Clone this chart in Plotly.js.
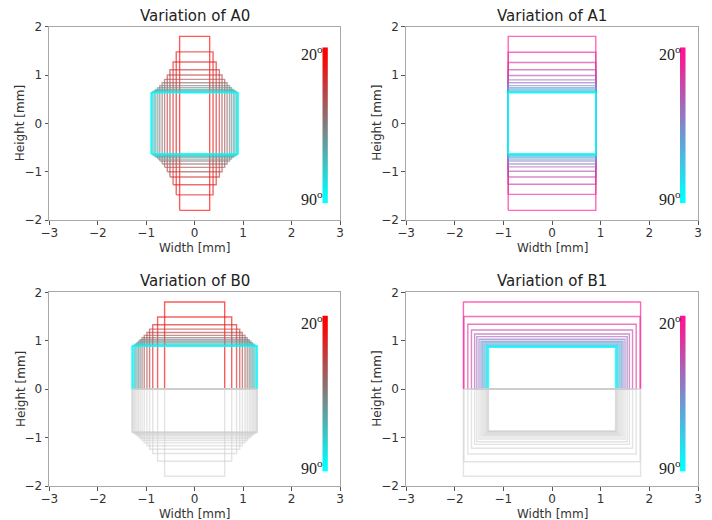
<!DOCTYPE html>
<html>
<head>
<meta charset="utf-8">
<script src="https://cdn.plot.ly/plotly-3.0.1.min.js"></script>
<style>html,body{margin:0;padding:0;background:#fff;}#chart{width:712px;height:520px;}</style>
</head>
<body>
<div id="chart"></div>
<script>
// ---------- data ----------
const angles = [20, 25, 30, 35, 40, 45, 50, 55, 60, 65, 70, 75, 80, 85, 90];

const panelTitles = ['Variation of A0', 'Variation of A1', 'Variation of B0', 'Variation of B1'];
const xTitle = 'Width [mm]';
const yTitle = 'Height [mm]';
const xTicks = [-3, -2, -1, 0, 1, 2, 3];
const yTicks = [-2, -1, 0, 1, 2];
const angleLabels = ['20', '90'];

// A0: half-width and half-height of each centred rectangle [mm]
const a0HalfWidth  = [0.31, 0.38, 0.445, 0.51, 0.565, 0.62, 0.67, 0.72, 0.76, 0.80, 0.83, 0.86, 0.88, 0.895, 0.90];
const a0HalfHeight = [1.80, 1.48, 1.27, 1.11, 1.00, 0.91, 0.84, 0.78, 0.74, 0.70, 0.68, 0.66, 0.645, 0.635, 0.63];

// A1
const a1HalfWidth  = [0.90, 0.90, 0.90, 0.90, 0.90, 0.90, 0.90, 0.90, 0.90, 0.90, 0.90, 0.90, 0.90, 0.90, 0.90];
const a1HalfHeight = [1.80, 1.47, 1.26, 1.11, 0.99, 0.90, 0.84, 0.78, 0.74, 0.71, 0.68, 0.66, 0.645, 0.635, 0.63];

// B0: half-width and height above 0 (mirrored below in grey)
const b0HalfWidth = [0.62, 0.765, 0.865, 0.93, 0.985, 1.04, 1.085, 1.125, 1.16, 1.19, 1.22, 1.245, 1.27, 1.285, 1.295];
const b0Height    = [1.80, 1.49, 1.33, 1.24, 1.17, 1.11, 1.06, 1.02, 0.99, 0.96, 0.935, 0.915, 0.90, 0.89, 0.885];

// B1
const b1HalfWidth = [1.82, 1.81, 1.73, 1.655, 1.59, 1.545, 1.50, 1.46, 1.43, 1.40, 1.375, 1.35, 1.33, 1.315, 1.305];
const b1Height    = [1.80, 1.50, 1.34, 1.22, 1.14, 1.085, 1.03, 0.99, 0.96, 0.935, 0.915, 0.895, 0.88, 0.87, 0.865];

// ---------- styles ----------
const RED = [255, 0, 0], PINK = [255, 20, 147], CYAN = [0, 255, 255];
const GREY = 'rgba(205,205,205,0.55)';
const LW = 1.4, OP = 0.65;

function mix(c1, c2, t) {
  const c = c1.map((v, i) => Math.round(v + (c2[i] - v) * t));
  return 'rgb(' + c.join(',') + ')';
}

const traces = [];

function centred(hw, hh, c20, xa, ya) {
  hw.forEach((w, i) => {
    const h = hh[i];
    traces.push({
      type: 'scatter', mode: 'lines', xaxis: xa, yaxis: ya,
      x: [-w, w, w, -w, -w], y: [-h, -h, h, h, -h],
      line: {color: mix(c20, CYAN, i / (angles.length - 1)), width: LW},
      opacity: OP, hoverinfo: 'skip', showlegend: false
    });
  });
}

function halves(hw, hh, c20, xa, ya) {
  hw.forEach((w, i) => {
    const h = hh[i];
    traces.push({
      type: 'scatter', mode: 'lines', xaxis: xa, yaxis: ya,
      x: [-w, -w, w, w], y: [0, h, h, 0],
      line: {color: mix(c20, CYAN, i / (angles.length - 1)), width: LW},
      opacity: OP, hoverinfo: 'skip', showlegend: false
    });
  });
  hw.forEach((w, i) => {
    const h = hh[i];
    traces.push({
      type: 'scatter', mode: 'lines', xaxis: xa, yaxis: ya,
      x: [-w, w, w, -w, -w], y: [0, 0, -h, -h, 0],
      line: {color: GREY, width: LW},
      hoverinfo: 'skip', showlegend: false
    });
  });
}

centred(a0HalfWidth, a0HalfHeight, RED, 'x', 'y');
centred(a1HalfWidth, a1HalfHeight, PINK, 'x2', 'y2');
halves(b0HalfWidth, b0Height, RED, 'x3', 'y3');
halves(b1HalfWidth, b1Height, PINK, 'x4', 'y4');

// colour bars as heatmaps on small axes
const cbCols = [RED, PINK, RED, PINK];
cbCols.forEach((c20, k) => {
  traces.push({
    type: 'heatmap', xaxis: 'x' + (k + 5), yaxis: 'y' + (k + 5),
    z: angles.map(a => [a]), y: angles, x: [0],
    zmin: angles[0], zmax: angles[angles.length - 1],
    colorscale: [[0, mix(c20, c20, 0)], [1, mix(CYAN, CYAN, 0)]],
    zsmooth: 'best', showscale: false, hoverinfo: 'skip'
  });
});

// ---------- layout ----------
const W = 712, H = 520;
function px2x(a, b) { return [a / W, b / W]; }
function px2y(top, bot) { return [1 - bot / H, 1 - top / H]; }

const colX = [px2x(49.3, 340), px2x(406, 698)];
const rowY = [px2y(26.7, 220), px2y(292.3, 486)];
const cbX = [px2x(322.3, 327.8), px2x(680, 685.5)];
const cbY = [px2y(47.3, 203.3), px2y(315.5, 471.8)];

const layout = {
  width: W, height: H,
  margin: {l: 0, r: 0, t: 0, b: 0},
  paper_bgcolor: '#ffffff', plot_bgcolor: 'rgba(0,0,0,0)',
  font: {family: 'DejaVu Sans, sans-serif', color: '#333'},
  showlegend: false,
  annotations: []
};

for (let k = 0; k < 4; k++) {
  const col = k % 2, row = Math.floor(k / 2);
  const xs = k === 0 ? '' : String(k + 1);
  layout['xaxis' + xs] = {
    domain: colX[col], anchor: 'y' + xs, range: [-3, 3],
    tickmode: 'array', tickvals: xTicks,
    ticks: 'outside', ticklen: 3.5, tickwidth: 1, tickcolor: '#555',
    ticklabelstandoff: -2,
    showline: true, mirror: true, linecolor: '#a8a8a8', linewidth: 1.2,
    showgrid: false, zeroline: false,
    tickfont: {size: 12, color: '#333'}
  };
  layout['yaxis' + xs] = {
    domain: rowY[row], anchor: 'x' + xs, range: [-2, 2],
    tickmode: 'array', tickvals: yTicks,
    ticks: 'outside', ticklen: 3.5, tickwidth: 1, tickcolor: '#555',
    showline: true, mirror: true, linecolor: '#a8a8a8', linewidth: 1.2,
    showgrid: false, zeroline: false,
    tickfont: {size: 12, color: '#333'}
  };
  const n = k + 5;
  layout['xaxis' + n] = {domain: cbX[col], anchor: 'y' + n, visible: false, fixedrange: true};
  layout['yaxis' + n] = {domain: cbY[row], anchor: 'x' + n, visible: false, autorange: 'reversed', fixedrange: true};

  // panel title
  layout.annotations.push({
    xref: 'x' + xs + ' domain', yref: 'y' + xs + ' domain', x: 0.5, y: 1,
    xanchor: 'center', yanchor: 'bottom', yshift: 0, showarrow: false,
    text: panelTitles[k], font: {size: 15, color: '#222'}
  });
  // axis titles
  layout.annotations.push({
    xref: 'x' + xs + ' domain', yref: 'y' + xs + ' domain', x: 0.5, y: 0,
    xanchor: 'center', yanchor: 'middle', yshift: -27.5, showarrow: false,
    text: xTitle, font: {size: 12, color: '#333'}
  });
  layout.annotations.push({
    xref: 'x' + xs + ' domain', yref: 'y' + xs + ' domain', x: 0, y: 0.5,
    xanchor: 'center', yanchor: 'middle', xshift: -28.5, textangle: -90, showarrow: false,
    text: yTitle, font: {size: 12, color: '#333'}
  });
  // colour-bar end labels
  layout.annotations.push({
    xref: 'x' + n + ' domain', yref: 'y' + n + ' domain', x: 0, y: 1,
    xanchor: 'right', yanchor: 'top', xshift: 3, yshift: 6, showarrow: false,
    text: angleLabels[0] + '<sup>o</sup>', font: {family: 'Liberation Serif, serif', size: 16, color: '#222'}
  });
  layout.annotations.push({
    xref: 'x' + n + ' domain', yref: 'y' + n + ' domain', x: 0, y: 0,
    xanchor: 'right', yanchor: 'bottom', xshift: 3, yshift: -7, showarrow: false,
    text: angleLabels[1] + '<sup>o</sup>', font: {family: 'Liberation Serif, serif', size: 16, color: '#222'}
  });
}

Plotly.newPlot('chart', traces, layout, {staticPlot: true, displayModeBar: false});
</script>
</body>
</html>
